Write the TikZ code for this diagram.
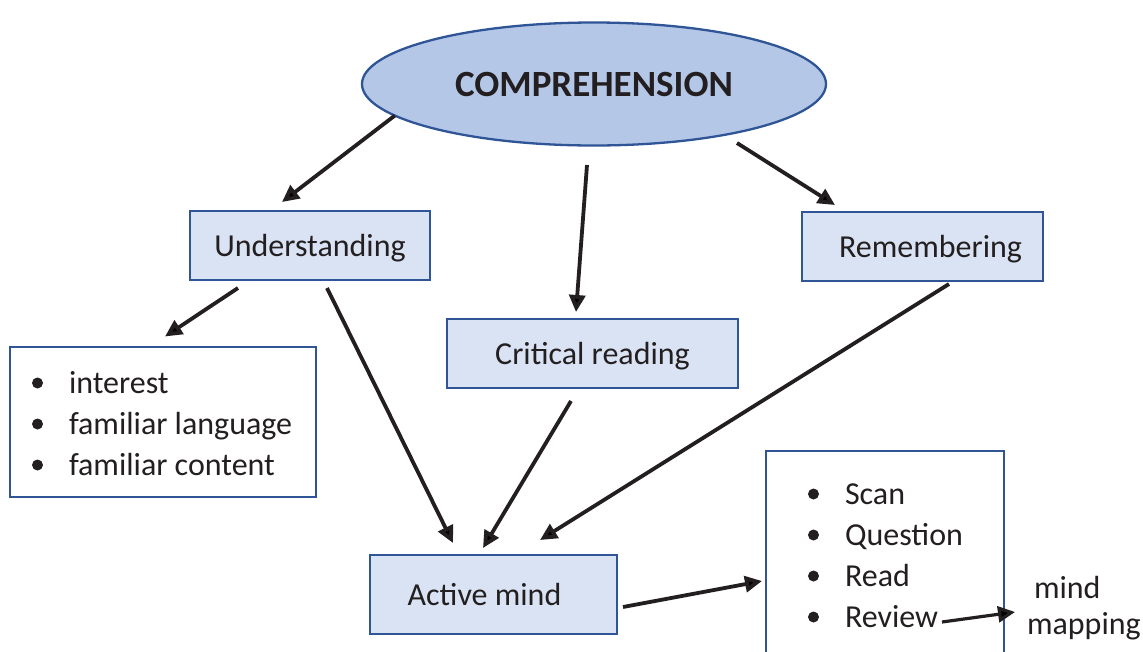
\documentclass[tikz,border=0pt]{standalone}
\usepackage{fontspec}
\setmainfont{Carlito}
\usetikzlibrary{shapes.geometric,arrows.meta,calc}
\definecolor{ellfill}{HTML}{B4C7E7}
\definecolor{boxfill}{HTML}{DAE3F3}
\definecolor{edgeblue}{HTML}{2F5597}
\definecolor{txt}{HTML}{231F20}
\newcommand{\bul}{\makebox[37pt][l]{\tikz[baseline=-10pt]\fill[txt] (0,0) circle (5.5pt);}}
\begin{document}
\begin{tikzpicture}[x=1pt,y=-1pt,
  every node/.style={text=txt},
  boxn/.style={draw=edgeblue, line width=2.3pt, fill=boxfill, inner sep=0pt, outer sep=0pt,
    text height=22pt, text depth=0pt, font=\fontsize{32}{39}\selectfont},
  listbox/.style={draw=edgeblue, line width=2.3pt, fill=white, inner sep=0pt, outer sep=0pt},
  listtext/.style={inner sep=0pt, outer sep=0pt, anchor=base west, font=\fontsize{32}{41}\selectfont},
  arr/.style={draw=txt, line width=3.8pt, -{Triangle[length=17pt,width=16pt]}},
]
\useasboundingbox (0,0) rectangle (1143,651);
\clip (0,0) rectangle (1143,651);
\fill[white] (0,0) rectangle (1143,651);

\node[ellipse, draw=edgeblue, line width=2.3pt, fill=ellfill, minimum width=464pt,
  minimum height=123pt, inner sep=0pt, outer sep=0pt,
  font=\fontsize{37}{41}\selectfont\bfseries] (comp) at (594,84) {COMPREHENSION};

\node[boxn, minimum width=240pt, minimum height=69pt] (und) at (310,245.5) {Understanding};
\node[boxn, minimum width=241pt, minimum height=69pt] (rem) at (922.5,246.5) {\hspace*{16pt}Remembering};
\node[boxn, minimum width=291pt, minimum height=69pt] (crit) at (592.5,353.5) {Critical reading};
\node[boxn, minimum width=247pt, minimum height=79pt] (act) at (493.5,594.5) {Active mind\hspace*{18pt}};

\node[listbox, minimum width=306pt, minimum height=150pt] (lst) at (163,422) {};
\node[listtext] (lsttext) at ($(lst.north west)+(22,46)$)
  {\begin{tabular}[t]{@{}l@{}}\bul interest\\ \bul familiar language\\ \bul familiar content\end{tabular}};

\node[listbox, anchor=north west, minimum width=238pt, minimum height=300pt] (sq) at (766,451) {};
\node[listtext] (sqtext) at ($(sq.north west)+(42,53)$)
  {\begin{tabular}[t]{@{}l@{}}\bul Scan\\ \bul Question\\ \bul Read\\ \bul Review\end{tabular}};

\node[inner sep=0pt, outer sep=0pt, anchor=base west, font=\fontsize{32}{36}\selectfont] (mm) at (1027,598)
  {\begin{tabular}[t]{@{}l@{}}\hspace*{7pt}mind\\mapping\end{tabular}};

\draw[arr] (comp.189) -- ($(und.north)+(-28,-9)$);
\draw[arr] ($(comp.south)+(-7,19.5)$) -- ($(crit.north)+(-16.5,-7)$);
\draw[arr] ($(comp.center)+(143,59)$) -- ($(rem.north west)+(33,-7)$);
\draw[arr] ($(und.south)+(-72,8)$) -- ($(lst.north)+(2,-10.5)$);
\draw[arr] ($(und.south)+(17,8)$) -- ($(act.north)+(-40.5,-12)$);
\draw[arr] ($(crit.south)+(-21.5,13)$) -- ($(act.north)+(-10.5,-7)$);
\draw[arr] ($(rem.south)+(26.5,3)$) -- ($(act.north)+(46.5,-15)$);
\draw[arr] ($(act.east)+(6,12.5)$) -- ($(sq.north west)+(-4,130)$);
\draw[arr, line width=3.2pt] ($(sq.north west)+(176,171)$) -- ($(mm.base west)+(-12,14)$);
\end{tikzpicture}
\end{document}
